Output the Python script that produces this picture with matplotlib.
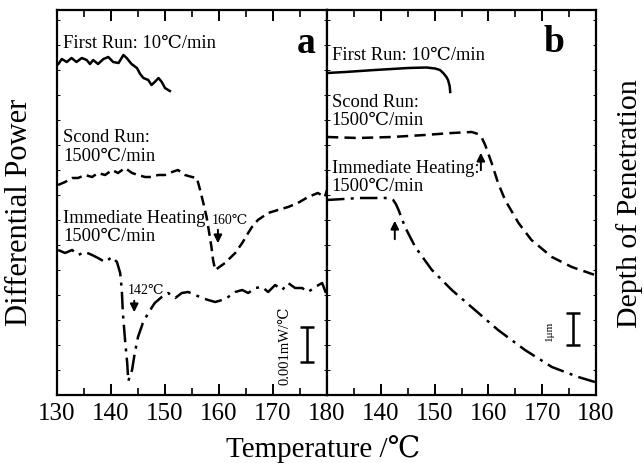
import matplotlib
matplotlib.use("Agg")
import matplotlib.pyplot as plt
from matplotlib.ticker import MultipleLocator

# ── Plot style ────────────────────────────────────────────────────────────────
SERIF = ["Liberation Serif", "DejaVu Serif", "Noto Sans CJK JP"]
plt.rcParams.update({
    "font.family":        SERIF,
    "axes.linewidth":     1.6,
    "xtick.direction":    "in",
    "ytick.direction":    "in",
    "xtick.top":          True,
    "ytick.right":        True,
    "xtick.major.size":   8,
    "xtick.minor.size":   5,
    "xtick.major.width":  1.4,
    "xtick.minor.width":  1.2,
    "ytick.major.size":   2.5,
    "ytick.major.width":  0.7,
    "xtick.labelsize":    18,
})

# ── Data (temperature in degC, signal in arbitrary units) ─────────────────────
# panel a: DSC differential power
a_first_T = [130.25, 130.9, 131.8, 132.7, 133.6, 134.6, 135.5, 136.1, 136.7, 137.6,
             138.6, 139.5, 140.4, 141.4, 142.3, 142.9, 143.8, 144.8, 145.4, 146.0,
             146.9, 147.5, 148.1, 148.8, 149.4, 150.0, 150.9]
a_first_y = [331, 336, 333, 337, 333, 337, 335, 331, 335, 331,
             336, 338, 333, 332, 340, 337, 331, 327, 321, 317,
             315, 310, 313, 317, 313, 307, 304]

a_second_T = [130.2, 131.5, 132.8, 133.9, 135.2, 136.5, 137.6, 138.9, 140.2, 141.3,
              142.6, 143.9, 145.0, 146.3, 147.6, 148.7, 150.0, 151.3, 152.4, 153.7,
              155.0, 155.9, 156.5, 157.1, 157.7, 158.1, 158.6, 158.9, 159.3, 161.1,
              163.0, 164.3, 165.4, 166.1, 167.2, 169.1, 170.9, 172.8, 174.6, 176.5,
              178.3, 179.6, 180.0]
a_second_y = [210, 213, 217, 217, 220, 218, 222, 220, 225, 222,
              227, 222, 220, 218, 218, 220, 220, 223, 225, 220,
              218, 217, 205, 192, 178, 165, 148, 135, 125, 132,
              142, 152, 162, 168, 175, 182, 185, 188, 192, 198,
              202, 198, 205]

a_imm_T = [130.2, 131.5, 132.8, 133.9, 135.2, 136.5, 137.6, 138.9, 140.2, 141.1,
           141.7, 142.0, 142.2, 142.6, 143.0, 143.2, 143.9, 144.4, 145.0, 145.9,
           146.9, 148.1, 149.4, 150.6, 151.9, 153.1, 154.3, 155.6, 156.9, 158.0,
           159.3, 160.6, 161.7, 163.0, 164.3, 165.4, 166.7, 168.0, 169.1, 170.4,
           171.7, 172.8, 174.1, 175.4, 176.5, 177.8, 179.1, 179.8]
a_imm_y = [145, 142, 145, 140, 143, 140, 137, 133, 138, 133,
           122, 105, 82, 55, 32, 14, 25, 42, 58, 72,
           82, 92, 98, 102, 97, 102, 103, 100, 97, 95,
           93, 95, 98, 103, 105, 102, 107, 108, 103, 110,
           105, 112, 107, 107, 103, 108, 112, 102]

# panel b: depth of penetration
b_first_T = [130.0, 133.4, 138.9, 145.1, 148.5, 150.1, 151.0, 151.6, 152.2, 152.5, 152.8, 152.9]
b_first_y = [322, 323, 325, 327, 327.5, 326.5, 325, 322, 318, 315, 309, 303]

b_second_T = [130.0, 135.8, 142.0, 148.2, 153.2, 156.9, 158.1, 158.8, 159.4, 160.6,
              161.8, 163.1, 165.6, 168.0, 171.8, 175.5, 179.8]
b_second_y = [258, 257, 258, 260, 262, 263, 261, 257, 250, 232,
              212, 195, 172, 155, 138, 128, 120]

b_imm_T = [130.0, 136.1, 141.4, 142.3, 142.8, 143.3, 144.5, 146.4, 149.5, 153.2,
           157.5, 161.8, 166.8, 171.8, 176.7, 179.8]
b_imm_y = [195, 197, 197, 195, 191, 185, 168, 148, 125, 105,
           85, 65, 45, 28, 18, 13]

x_ticks = [130, 140, 150, 160, 170, 180]
x_ticklabels_a = ["130", "140", "150", "160", "170", "180"]
x_ticklabels_b = ["", "140", "150", "160", "170", "180"]

DASH = (0, (4.0, 2.2))
DASHDOT = (0, (7.0, 2.5, 1.2, 2.5))
ARROW = dict(arrowstyle="-|>", color="black", lw=1.4, mutation_scale=12)

fig = plt.figure(figsize=(6.44, 4.63), dpi=100)
ax_a = fig.add_axes([57 / 644, 1 - 395 / 463, 270 / 644, 385 / 463])
ax_b = fig.add_axes([327 / 644, 1 - 395 / 463, 269 / 644, 385 / 463])

for ax, labels in ((ax_a, x_ticklabels_a), (ax_b, x_ticklabels_b)):
    ax.set_xlim(130, 180)
    ax.set_ylim(0, 385)
    ax.set_xticks(x_ticks)
    ax.set_xticklabels(labels)
    ax.xaxis.set_minor_locator(MultipleLocator(5))
    ax.yaxis.set_major_locator(MultipleLocator(25))
    ax.tick_params(axis="y", labelleft=False, labelright=False)
    ax.tick_params(axis="x", pad=6)

# ── panel a ──
ax_a.plot(a_first_T, a_first_y, color="black", lw=1.8, solid_joinstyle="round")
ax_a.plot(a_second_T, a_second_y, color="black", lw=1.8, linestyle=DASH)
ax_a.plot(a_imm_T, a_imm_y, color="black", lw=1.8, linestyle=DASHDOT)

txt = dict(fontsize=13.3, family=SERIF)
ax_a.text(131.1, 352, "First Run: 10℃/min", va="center", **txt)
ax_a.text(131.1, 248, "Scond Run:\n1500℃/min", va="center", linespacing=1.1, **txt)
ax_a.text(131.1, 167.5, "Immediate Heating\n1500℃/min", va="center", linespacing=1.1, **txt)
ax_a.text(176.1, 342, "a", fontsize=27, fontweight="bold", ha="center", va="baseline")

ax_a.text(158.7, 175, "160℃", fontsize=10, va="center")
ax_a.annotate("", xy=(159.8, 149), xytext=(159.8, 168), arrowprops=ARROW)
ax_a.text(143.1, 105, "142℃", fontsize=10, va="center")
ax_a.annotate("", xy=(144.3, 80), xytext=(144.3, 97), arrowprops=ARROW)

ax_a.errorbar([176.3], [50.5], yerr=[17.5], fmt="none", ecolor="black",
              elinewidth=1.8, capsize=5, capthick=1.8)
ax_a.text(172.2, 49, "0.001mW/℃", rotation=90, fontsize=10.5, ha="center", va="center")

# ── panel b ──
ax_b.plot(b_first_T, b_first_y, color="black", lw=1.8)
ax_b.plot(b_second_T, b_second_y, color="black", lw=1.8, linestyle=(0, (4.5, 2.5)))
ax_b.plot(b_imm_T, b_imm_y, color="black", lw=1.8, linestyle=DASHDOT)

ax_b.text(130.9, 340, "First Run: 10℃/min", va="center", **txt)
ax_b.text(130.9, 283.5, "Scond Run:\n1500℃/min", va="center", linespacing=1.1, **txt)
ax_b.text(130.9, 217.5, "Immediate Heating:\n1500℃/min", va="center", linespacing=1.1, **txt)
ax_b.text(172.2, 343, "b", fontsize=27, fontweight="bold", ha="center", va="baseline")

ax_b.annotate("", xy=(158.6, 245), xytext=(158.6, 222), arrowprops=ARROW)
ax_b.annotate("", xy=(142.6, 177), xytext=(142.6, 153), arrowprops=ARROW)

ax_b.errorbar([175.7], [66], yerr=[16], fmt="none", ecolor="black",
              elinewidth=1.8, capsize=5, capthick=1.8)
ax_b.text(171.3, 64, "1μm", rotation=90, fontsize=8, ha="center", va="center")

# ── axis labels ──
fig.text(20 / 644, 1 - 212 / 463, "Differential Power", rotation=90,
         fontsize=22, ha="center", va="center")
fig.text(630 / 644, 1 - 204 / 463, "Depth of Penetration", rotation=90,
         fontsize=21.5, ha="center", va="center")
fig.text(323 / 644, 1 - 449 / 463, "Temperature /℃", fontsize=21,
         ha="center", va="center")

fig.savefig("out.png", dpi=100)
